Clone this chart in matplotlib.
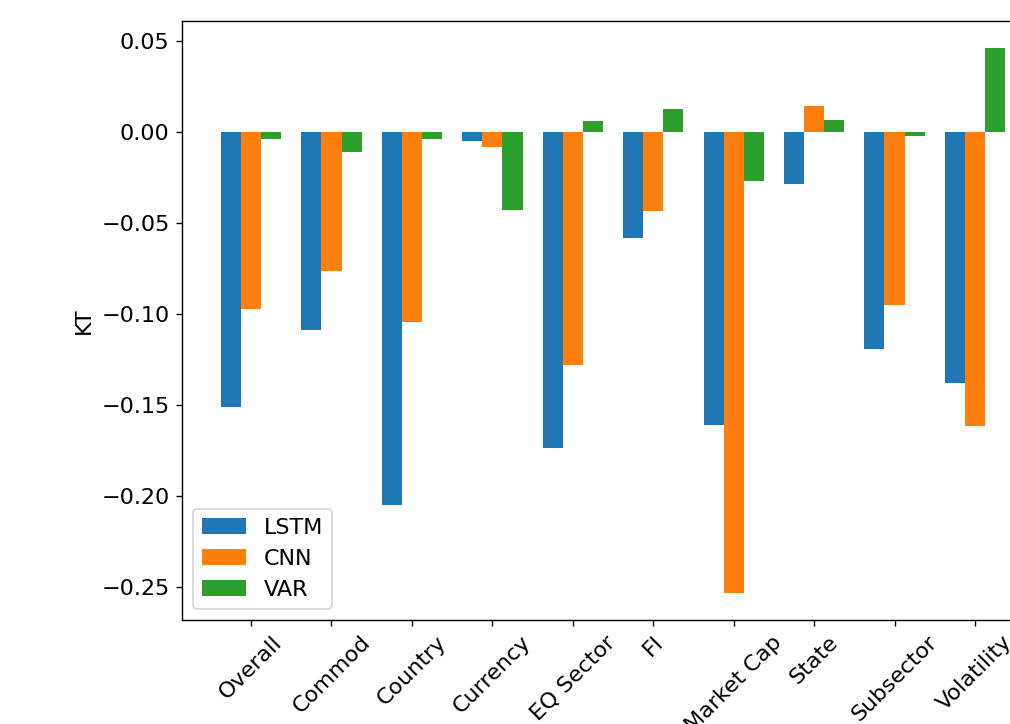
import matplotlib
matplotlib.use('Agg')
import matplotlib.pyplot as plt
import numpy as np

categories = ['Overall', 'Commod', 'Country', 'Currency', 'EQ Sector', 'FI',
              'Market Cap', 'State', 'Subsector', 'Volatility']
lstm = [-0.1513, -0.1090, -0.2047, -0.0051, -0.1738, -0.0586, -0.1608, -0.0287, -0.1194, -0.1380]
cnn = [-0.0975, -0.0762, -0.1045, -0.0086, -0.1280, -0.0437, -0.2531, 0.0141, -0.0952, -0.1617]
var = [-0.0040, -0.0113, -0.0040, -0.0430, 0.0060, 0.0123, -0.0271, 0.0064, -0.0024, 0.0458]

plt.rcParams['font.size'] = 12.8

fig = plt.figure(figsize=(1011 / 125, 724 / 125), dpi=125)
ax = fig.add_axes([0.1797, 0.1436, 0.8533, 0.8273])

x = np.arange(len(categories))
width = 0.25
ax.bar(x - width, lstm, width, label='LSTM')
ax.bar(x, cnn, width, label='CNN')
ax.bar(x + width, var, width, label='VAR')

ax.set_xticks(x)
ax.set_xticklabels(categories, rotation=45)
ax.set_ylabel('KT')
ax.legend(loc='lower left')

fig.savefig('out.png', dpi=125)
